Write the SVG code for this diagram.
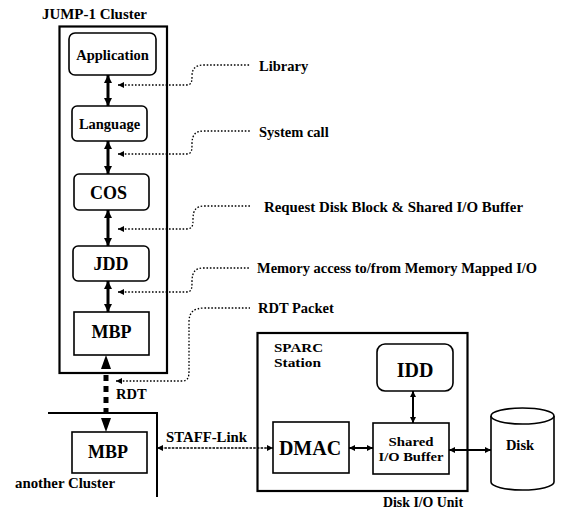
<svg xmlns="http://www.w3.org/2000/svg" width="561" height="514" viewBox="0 0 561 514">
  <style>
    text { font-family: "Liberation Serif", "Times New Roman", "DejaVu Serif", serif; font-weight: bold; fill: #000; }
    .lbl { font-size: 14.5px; }
    .sm { font-size: 12.5px; }
    .big { font-size: 18px; }
    .huge { font-size: 20px; }
    .box { fill: #fff; stroke: #000; stroke-width: 1.6; }
    .frame { fill: none; stroke: #000; stroke-width: 2.2; }
    .thick { fill: none; stroke: #000; stroke-width: 3; }
    .thin { fill: none; stroke: #000; stroke-width: 2; }
    .dot { fill: none; stroke: #000; stroke-width: 1.3; stroke-dasharray: 1.6 1.8; }
    .link { fill: none; stroke: #000; stroke-width: 1.6; stroke-dasharray: 2.5 1.2; }
  </style>
  <defs>
    <marker id="headBig" viewBox="0 0 10 10" refX="10" refY="5" markerUnits="userSpaceOnUse" markerWidth="9" markerHeight="8" orient="auto-start-reverse">
      <path d="M0,0 L10,5 L0,10 z" fill="#000"/>
    </marker>
    <marker id="headSmall" viewBox="0 0 10 10" refX="10" refY="5" markerUnits="userSpaceOnUse" markerWidth="7" markerHeight="6" orient="auto-start-reverse">
      <path d="M0,0 L10,5 L0,10 z" fill="#000"/>
    </marker>
  </defs>

  <!-- JUMP-1 cluster frame -->
  <g id="cluster">
    <text class="lbl" x="42" y="19" textLength="105" lengthAdjust="spacingAndGlyphs">JUMP-1 Cluster</text>
    <rect class="frame" x="59.5" y="26.5" width="107.5" height="346.5"/>
  </g>

  <g id="application">
    <rect class="box" x="69" y="33" width="87" height="42" rx="6"/>
    <text class="lbl" x="112.5" y="59.5" text-anchor="middle">Application</text>
  </g>
  <g id="language">
    <rect class="box" x="72" y="106" width="75" height="35" rx="5"/>
    <text class="lbl" x="109.5" y="129" text-anchor="middle">Language</text>
  </g>
  <g id="cos">
    <rect class="box" x="74" y="174" width="75" height="36" rx="5"/>
    <text class="big" x="108.5" y="199" text-anchor="middle">COS</text>
  </g>
  <g id="jdd">
    <rect class="box" x="73" y="246" width="76" height="35" rx="5"/>
    <text class="big" x="111" y="270" text-anchor="middle">JDD</text>
  </g>
  <g id="mbp-top">
    <rect class="box" x="74" y="312" width="75" height="43"/>
    <text class="big" x="111.5" y="338" text-anchor="middle">MBP</text>
  </g>

  <!-- another cluster -->
  <g id="another-cluster">
    <polyline class="thin" points="48,413 157,413 157,497"/>
    <text class="lbl" x="15" y="488" textLength="100" lengthAdjust="spacingAndGlyphs">another Cluster</text>
  </g>
  <g id="mbp-bottom">
    <rect class="box" x="72" y="432" width="75" height="41"/>
    <text class="big" x="108" y="458" text-anchor="middle">MBP</text>
  </g>

  <!-- Disk I/O unit -->
  <g id="disk-io-unit">
    <rect class="frame" x="257.5" y="333" width="210" height="158"/>
    <text class="sm" x="274" y="352" textLength="49" lengthAdjust="spacingAndGlyphs">SPARC</text>
    <text class="sm" x="274" y="367" textLength="47" lengthAdjust="spacingAndGlyphs">Station</text>
    <text class="lbl" x="383" y="507" textLength="80" lengthAdjust="spacingAndGlyphs">Disk I/O Unit</text>
  </g>
  <g id="idd">
    <rect class="box" x="377" y="344" width="76" height="47" rx="8"/>
    <text class="huge" x="415" y="377" text-anchor="middle">IDD</text>
  </g>
  <g id="dmac">
    <rect class="box" x="273" y="422" width="76" height="51"/>
    <text class="huge" x="310" y="455" text-anchor="middle">DMAC</text>
  </g>
  <g id="shared-buffer">
    <rect class="box" x="373" y="423" width="76" height="51"/>
    <text class="sm" x="411" y="446" text-anchor="middle" textLength="45" lengthAdjust="spacingAndGlyphs">Shared</text>
    <text class="sm" x="411" y="461" text-anchor="middle" textLength="65" lengthAdjust="spacingAndGlyphs">I/O Buffer</text>
  </g>
  <g id="disk">
    <path class="box" d="M491,416 A31.5,8 0 0 1 554,416 V482 A31.5,8 0 0 1 491,482 Z"/>
    <path class="box" d="M491,416 A31.5,8 0 0 0 554,416"/>
    <text class="lbl" x="520" y="450" text-anchor="middle">Disk</text>
  </g>

  <!-- connectors -->
  <g id="connectors">
    <!-- software stack calls -->
    <line class="thick" x1="108" y1="75" x2="108" y2="106" marker-start="url(#headBig)" marker-end="url(#headBig)"/>
    <line class="thick" x1="108" y1="141" x2="108" y2="174" marker-start="url(#headBig)" marker-end="url(#headBig)"/>
    <line class="thick" x1="108" y1="210" x2="108" y2="246" marker-start="url(#headBig)" marker-end="url(#headBig)"/>
    <line class="thick" x1="108" y1="281" x2="108" y2="312" marker-start="url(#headBig)" marker-end="url(#headBig)"/>

    <!-- RDT link between clusters -->
    <polygon points="106,355 101,369 111,369" fill="#000"/>
    <line x1="106" y1="375" x2="106" y2="418" stroke="#000" stroke-width="5" stroke-dasharray="6 5"/>
    <polygon points="101,418 111,418 106,432" fill="#000"/>
    <text class="lbl" x="116" y="399">RDT</text>

    <!-- annotation leaders -->
    <path class="dot" d="M118,85 H186 C192,85 192,81 192,76 C192,68 196,65 204,65 H250" marker-start="url(#headSmall)"/>
    <text class="lbl" x="259" y="71">Library</text>
    <path class="dot" d="M118,154 H186 C192,154 192,150 192,144 C192,134 196,131 204,131 H250" marker-start="url(#headSmall)"/>
    <text class="lbl" x="259" y="137">System call</text>
    <path class="dot" d="M118,229 H186 C193,229 193,225 193,219 C193,209 197,206 205,206 H250" marker-start="url(#headSmall)"/>
    <text class="lbl" x="264" y="212" textLength="259" lengthAdjust="spacingAndGlyphs">Request Disk Block &amp; Shared I/O Buffer</text>
    <path class="dot" d="M118,292 H186 C192,292 192,288 192,282 C192,271 196,268 204,268 H250" marker-start="url(#headSmall)"/>
    <text class="lbl" x="257" y="273" textLength="280" lengthAdjust="spacingAndGlyphs">Memory access to/from Memory Mapped I/O</text>
    <path class="dot" d="M116,381 H182 C188,381 189,377 189,371 V322 C189,312 194,308 205,308 H250" marker-start="url(#headSmall)"/>
    <text class="lbl" x="258" y="313">RDT Packet</text>

    <!-- STAFF-Link -->
    <line class="link" x1="157" y1="448" x2="273" y2="448" marker-start="url(#headSmall)" marker-end="url(#headSmall)"/>
    <text class="lbl" x="166" y="442" textLength="81" lengthAdjust="spacingAndGlyphs">STAFF-Link</text>

    <!-- inside the disk I/O unit -->
    <line class="thin" x1="349" y1="448" x2="373" y2="448" marker-start="url(#headSmall)" marker-end="url(#headSmall)"/>
    <line class="thin" x1="413" y1="391" x2="413" y2="423" marker-start="url(#headSmall)" marker-end="url(#headSmall)"/>
    <line class="thin" x1="449" y1="450" x2="491" y2="450" marker-start="url(#headSmall)" marker-end="url(#headSmall)"/>
  </g>
</svg>
